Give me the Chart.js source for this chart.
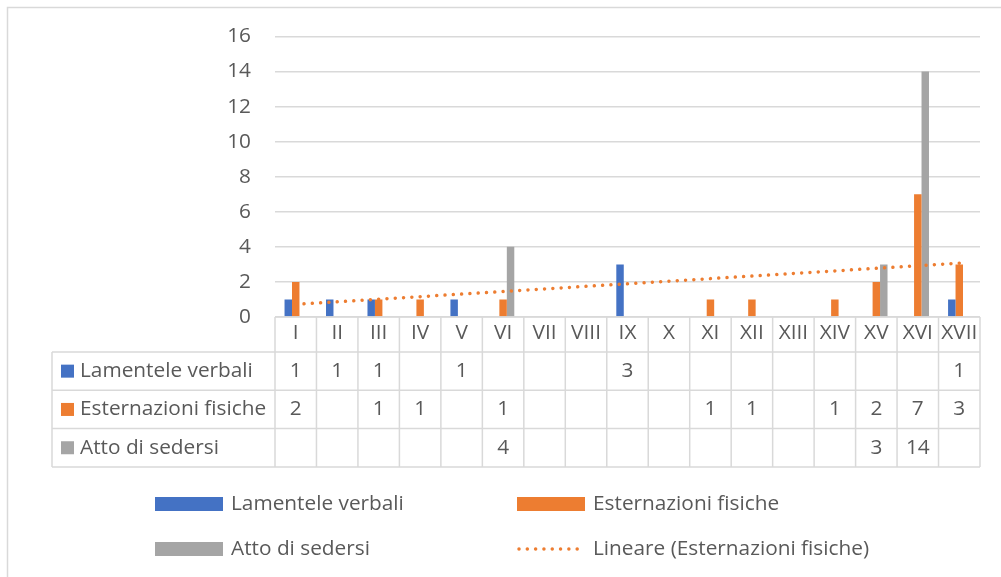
<!DOCTYPE html>
<html>
<head>
<meta charset="utf-8">
<script src="https://cdn.jsdelivr.net/npm/chart.js@4/dist/chart.umd.min.js"></script>
<style>
  html, body { margin: 0; padding: 0; background: #fff; }
</style>
</head>
<body>
<canvas id="chart" width="1001" height="577"></canvas>
<script>
// Data
const categories = ['I', 'II', 'III', 'IV', 'V', 'VI', 'VII', 'VIII', 'IX', 'X', 'XI', 'XII', 'XIII', 'XIV', 'XV', 'XVI', 'XVII'];
const lamenteleVerbali = [1, 1, 1, null, 1, null, null, null, 3, null, null, null, null, null, null, null, 1];
const esternazioniFisiche = [2, null, 1, 1, null, 1, null, null, null, null, 1, 1, null, 1, 2, 7, 3];
const attoDiSedersi = [null, null, null, null, null, 4, null, null, null, null, null, null, null, null, 3, 14, null];
// Excel linear trendline, end values
const trendEsternazioni = [0.72, null, null, null, null, null, null, null, null, null, null, null, null, null, null, null, 3.07];
const yTicks = [0, 2, 4, 6, 8, 10, 12, 14, 16];

// Style
const BLUE = '#4472C4';
const ORANGE = '#ED7D31';
const GRAY = '#A5A5A5';
const TEXT = '#595959';
const GRID = '#D9D9D9';
const FONT_FAMILY = '"Open Sans", Lato, sans-serif';
const FONT_SIZE = 20.8;
const TRENDLINE_DASH = [0.01, 8.3];

// Background and outer chart border (only left/top edges are inside the picture)
const frame = {
  id: 'frame',
  beforeDraw(chart) {
    const ctx = chart.ctx;
    ctx.save();
    ctx.fillStyle = '#fff';
    ctx.fillRect(0, 0, chart.width, chart.height);
    ctx.strokeStyle = GRID;
    ctx.lineWidth = 1.5;
    ctx.beginPath();
    ctx.moveTo(7.5, chart.height);
    ctx.lineTo(7.5, 7.5);
    ctx.lineTo(chart.width, 7.5);
    ctx.stroke();
    ctx.restore();
  }
};

// Excel style data table under the plot
const TABLE_LEFT = 52;
const HEAD_H = 35;
const ROW_H = 38.3;

const dataTable = {
  id: 'dataTable',
  afterDraw(chart) {
    const { ctx, chartArea: a, scales: { x } } = chart;
    const n = categories.length;
    const cw = (a.right - a.left) / n;
    const series = chart.data.datasets.filter(d => d.type !== 'line');
    const headBottom = a.bottom + HEAD_H;
    const tableBottom = headBottom + ROW_H * series.length;

    ctx.save();
    ctx.strokeStyle = GRID;
    ctx.lineWidth = 1.5;
    ctx.beginPath();
    ctx.moveTo(a.left, a.bottom);
    ctx.lineTo(a.right, a.bottom);
    for (let r = 0; r <= series.length; r++) {
      const y = headBottom + r * ROW_H;
      ctx.moveTo(TABLE_LEFT, y);
      ctx.lineTo(a.right, y);
    }
    ctx.moveTo(TABLE_LEFT, headBottom);
    ctx.lineTo(TABLE_LEFT, tableBottom);
    for (let i = 0; i <= n; i++) {
      const xx = a.left + i * cw;
      ctx.moveTo(xx, a.bottom);
      ctx.lineTo(xx, tableBottom);
    }
    ctx.stroke();

    ctx.font = FONT_SIZE + 'px ' + FONT_FAMILY;
    ctx.fillStyle = TEXT;
    ctx.textBaseline = 'middle';
    series.forEach((ds, r) => {
      const yMid = headBottom + r * ROW_H + ROW_H / 2;
      // legend key + series name
      ctx.fillStyle = ds.backgroundColor;
      ctx.fillRect(61, yMid - 6.5, 13, 13);
      ctx.fillStyle = TEXT;
      ctx.textAlign = 'left';
      ctx.fillText(ds.label, 80, yMid);
      // values
      ctx.textAlign = 'center';
      ds.data.forEach((v, i) => {
        if (v === null || v === undefined) return;
        ctx.fillText(String(v), x.getPixelForValue(i), yMid);
      });
    });
    ctx.restore();
  }
};

// Two-column legend at the bottom
const LEGEND_COLS = [155, 517];
const LEGEND_ROWS = [504, 549];

const bottomLegend = {
  id: 'bottomLegend',
  afterDraw(chart) {
    const ctx = chart.ctx;
    ctx.save();
    ctx.font = FONT_SIZE + 'px ' + FONT_FAMILY;
    ctx.textBaseline = 'middle';
    ctx.textAlign = 'left';
    chart.data.datasets.forEach((ds, i) => {
      const x0 = LEGEND_COLS[i % 2];
      const y0 = LEGEND_ROWS[Math.floor(i / 2)];
      if (ds.type === 'line') {
        ctx.strokeStyle = ds.borderColor;
        ctx.lineWidth = ds.borderWidth;
        ctx.lineCap = 'round';
        ctx.setLineDash(TRENDLINE_DASH);
        ctx.beginPath();
        ctx.moveTo(x0 + 2, y0);
        ctx.lineTo(x0 + 68, y0);
        ctx.stroke();
        ctx.setLineDash([]);
      } else {
        ctx.fillStyle = ds.backgroundColor;
        ctx.fillRect(x0, y0 - 7, 68, 14);
      }
      ctx.fillStyle = TEXT;
      ctx.fillText(ds.label, x0 + 76, y0);
    });
    ctx.restore();
  }
};

new Chart(document.getElementById('chart'), {
  type: 'bar',
  data: {
    labels: categories,
    datasets: [
      { label: 'Lamentele verbali', data: lamenteleVerbali, backgroundColor: BLUE },
      { label: 'Esternazioni fisiche', data: esternazioniFisiche, backgroundColor: ORANGE },
      { label: 'Atto di sedersi', data: attoDiSedersi, backgroundColor: GRAY },
      {
        type: 'line',
        label: 'Lineare (Esternazioni fisiche)',
        data: trendEsternazioni,
        borderColor: ORANGE,
        borderWidth: 3.5,
        borderDash: TRENDLINE_DASH,
        borderCapStyle: 'round',
        pointRadius: 0,
        spanGaps: true,
        fill: false,
        order: -1
      }
    ]
  },
  options: {
    responsive: false,
    animation: false,
    devicePixelRatio: 1,
    categoryPercentage: 0.54,
    barPercentage: 1,
    layout: { padding: { left: 0, right: 21, top: 35, bottom: 0 } },
    plugins: {
      legend: { display: false },
      tooltip: { enabled: false }
    },
    scales: {
      x: {
        grid: { display: false, drawTicks: false },
        border: { display: false },
        ticks: {
          color: TEXT,
          font: { family: FONT_FAMILY, size: FONT_SIZE },
          padding: 4,
          autoSkip: false,
          maxRotation: 0
        },
        afterFit(scale) { scale.height = 260; }
      },
      y: {
        min: yTicks[0],
        max: yTicks[yTicks.length - 1],
        grid: { color: GRID, lineWidth: 1.5, drawTicks: false },
        border: { display: false },
        afterBuildTicks(scale) { scale.ticks = yTicks.map(v => ({ value: v })); },
        ticks: {
          color: TEXT,
          font: { family: FONT_FAMILY, size: FONT_SIZE },
          padding: 24
        },
        afterFit(scale) { scale.width = 275; }
      }
    }
  },
  plugins: [frame, dataTable, bottomLegend]
});
</script>
</body>
</html>
